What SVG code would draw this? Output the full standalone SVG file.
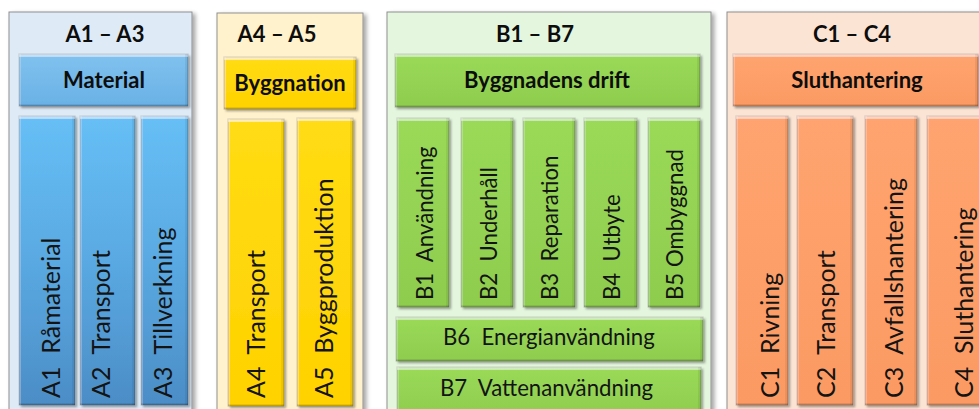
<svg xmlns="http://www.w3.org/2000/svg" width="979" height="409" viewBox="0 0 979 409">
<defs>
<style>
.panel{stroke:#8f8f8f;stroke-width:1;filter:url(#pshadow)}
.bar{stroke:#000;stroke-opacity:.3;stroke-width:1;filter:url(#bevel)}
.hd{font-family:Lato,"Liberation Sans",sans-serif;font-weight:bold;font-size:22px;fill:#0d0d0d;text-anchor:middle}
.vt{font-family:Lato,"Liberation Sans",sans-serif;font-size:25px;fill:#141414;white-space:pre}
.bt{font-family:Lato,"Liberation Sans",sans-serif;font-size:22.2px;fill:#141414;white-space:pre}
</style>
<filter id="pshadow" x="-10%" y="-10%" width="120%" height="120%">
<feGaussianBlur in="SourceAlpha" stdDeviation="2"/>
<feOffset dx="3" dy="2" result="b"/>
<feFlood flood-color="#000" flood-opacity="0.35"/>
<feComposite in2="b" operator="in" result="sh"/>
<feMerge><feMergeNode in="sh"/><feMergeNode in="SourceGraphic"/></feMerge>
</filter>
<filter id="bevel" x="-10%" y="-10%" width="120%" height="120%">
<feGaussianBlur in="SourceAlpha" stdDeviation="1.2"/>
<feOffset dx="1.5" dy="1.5" result="b"/>
<feFlood flood-color="#000" flood-opacity="0.35"/>
<feComposite in2="b" operator="in" result="sh"/>
<feOffset in="SourceAlpha" dy="3" result="d"/>
<feComposite in="SourceAlpha" in2="d" operator="out" result="top"/>
<feFlood flood-color="#fff" flood-opacity="0.45"/>
<feComposite in2="top" operator="in" result="topHL"/>
<feOffset in="SourceAlpha" dy="-2" result="u"/>
<feComposite in="SourceAlpha" in2="u" operator="out" result="bot"/>
<feFlood flood-color="#000" flood-opacity="0.22"/>
<feComposite in2="bot" operator="in" result="botSh"/>
<feOffset in="SourceAlpha" dx="-3" result="l"/>
<feComposite in="SourceAlpha" in2="l" operator="out" result="rt"/>
<feFlood flood-color="#000" flood-opacity="0.15"/>
<feComposite in2="rt" operator="in" result="rtSh"/>
<feOffset in="SourceAlpha" dx="2" result="r"/>
<feComposite in="SourceAlpha" in2="r" operator="out" result="lf"/>
<feFlood flood-color="#fff" flood-opacity="0.2"/>
<feComposite in2="lf" operator="in" result="lfHL"/>
<feMerge><feMergeNode in="sh"/><feMergeNode in="SourceGraphic"/><feMergeNode in="topHL"/><feMergeNode in="lfHL"/><feMergeNode in="botSh"/><feMergeNode in="rtSh"/></feMerge>
</filter>
<linearGradient id="gBlueH" x1="0" y1="0" x2="0" y2="1"><stop offset="0" stop-color="#80C2EF"/><stop offset="1" stop-color="#6AB1E5"/></linearGradient>
<linearGradient id="gBlueV" x1="0" y1="0" x2="0" y2="1"><stop offset="0" stop-color="#66BFF6"/><stop offset="0.5" stop-color="#5AA9E2"/><stop offset="1" stop-color="#4C8DC6"/></linearGradient>
<linearGradient id="gYel" x1="0" y1="0" x2="0" y2="1"><stop offset="0" stop-color="#FFDC14"/><stop offset="1" stop-color="#FFD200"/></linearGradient>
<linearGradient id="gGrn" x1="0" y1="0" x2="0" y2="1"><stop offset="0" stop-color="#9ADA58"/><stop offset="1" stop-color="#8ECC4E"/></linearGradient>
<linearGradient id="gOra" x1="0" y1="0" x2="0" y2="1"><stop offset="0" stop-color="#FFA46F"/><stop offset="1" stop-color="#FB9A63"/></linearGradient>
</defs>

<g id="panel-A1-A3">
<rect class="panel" x="9" y="12" width="183" height="410" fill="#DEEBF7"/>
<text class="hd" x="105" y="42">A1 – A3</text>
</g>
<g id="material">
<rect class="bar" x="19" y="54" width="169" height="52" fill="url(#gBlueH)"/>
<text class="hd" x="104" y="88">Material</text>
</g>
<g id="A1">
<rect class="bar" x="19" y="116" width="56" height="289" fill="url(#gBlueV)"/>
<text class="vt" transform="translate(60,398) rotate(-90)">A1  Råmaterial</text>
</g>
<g id="A2">
<rect class="bar" x="80" y="116" width="55" height="289" fill="url(#gBlueV)"/>
<text class="vt" transform="translate(110,398) rotate(-90)">A2  Transport</text>
</g>
<g id="A3">
<rect class="bar" x="141" y="116" width="47" height="289" fill="url(#gBlueV)"/>
<text class="vt" transform="translate(172,398) rotate(-90)">A3  Tillverkning</text>
</g>

<g id="panel-A4-A5">
<rect class="panel" x="217" y="13" width="146" height="410" fill="#FFF2CC"/>
<text class="hd" x="277" y="42">A4 – A5</text>
</g>
<g id="byggnation">
<rect class="bar" x="224" y="57" width="132" height="52" fill="url(#gYel)"/>
<text class="hd" x="290" y="91">Byggnation</text>
</g>
<g id="A4">
<rect class="bar" x="228" y="119" width="56" height="287" fill="url(#gYel)"/>
<text class="vt" transform="translate(265,398) rotate(-90)">A4  Transport</text>
</g>
<g id="A5">
<rect class="bar" x="297" y="118" width="56" height="288" fill="url(#gYel)"/>
<text class="vt" transform="translate(333,398) rotate(-90)">A5  Byggproduktion</text>
</g>

<g id="panel-B1-B7">
<rect class="panel" x="387" y="12" width="324" height="410" fill="#E4F6DE"/>
<text class="hd" x="535" y="42">B1 – B7</text>
</g>
<g id="byggnadens-drift">
<rect class="bar" x="395" y="54" width="305" height="53" fill="url(#gGrn)"/>
<text class="hd" x="547" y="88">Byggnadens drift</text>
</g>
<g id="B1">
<rect class="bar" x="397" y="118" width="52" height="189" fill="url(#gGrn)"/>
<text class="bt" transform="translate(433,300) rotate(-90)">B1  Användning</text>
</g>
<g id="B2">
<rect class="bar" x="461" y="118" width="52" height="189" fill="url(#gGrn)"/>
<text class="bt" transform="translate(497,300) rotate(-90)">B2  Underhåll</text>
</g>
<g id="B3">
<rect class="bar" x="523" y="118" width="52" height="189" fill="url(#gGrn)"/>
<text class="bt" transform="translate(558,300) rotate(-90)">B3  Reparation</text>
</g>
<g id="B4">
<rect class="bar" x="584" y="118" width="53" height="189" fill="url(#gGrn)"/>
<text class="bt" transform="translate(620,300) rotate(-90)">B4  Utbyte</text>
</g>
<g id="B5">
<rect class="bar" x="648" y="118" width="52" height="189" fill="url(#gGrn)"/>
<text class="bt" transform="translate(683,300) rotate(-90)">B5 Ombyggnad</text>
</g>
<g id="B6">
<rect class="bar" x="396" y="317" width="307" height="44" fill="url(#gGrn)"/>
<text class="bt" x="443" y="345">B6  Energianvändning</text>
</g>
<g id="B7">
<rect class="bar" x="397" y="367" width="304" height="50" fill="url(#gGrn)"/>
<text class="bt" x="440" y="396">B7  Vattenanvändning</text>
</g>

<g id="panel-C1-C4">
<rect class="panel" x="727" y="12" width="270" height="410" fill="#FBE4D3"/>
<text class="hd" x="852" y="42">C1 – C4</text>
</g>
<g id="sluthantering">
<rect class="bar" x="733" y="54" width="245" height="52" fill="url(#gOra)"/>
<text class="hd" x="857" y="88">Sluthantering</text>
</g>
<g id="C1">
<rect class="bar" x="736" y="116" width="52" height="289" fill="url(#gOra)"/>
<text class="vt" transform="translate(779,398) rotate(-90)">C1  Rivning</text>
</g>
<g id="C2">
<rect class="bar" x="797" y="116" width="56" height="289" fill="url(#gOra)"/>
<text class="vt" transform="translate(835,398) rotate(-90)">C2  Transport</text>
</g>
<g id="C3">
<rect class="bar" x="865" y="116" width="52" height="289" fill="url(#gOra)"/>
<text class="vt" transform="translate(903,398) rotate(-90)">C3  Avfallshantering</text>
</g>
<g id="C4">
<rect class="bar" x="927" y="116" width="60" height="289" fill="url(#gOra)"/>
<text class="vt" transform="translate(973,398) rotate(-90)">C4  Sluthantering</text>
</g>

<g id="connectors"/>
</svg>
